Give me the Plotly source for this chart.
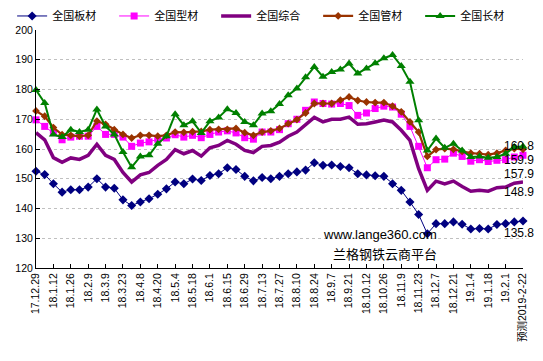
import plotly.graph_objects as go

tick_labels = ["17.12.29", "18.1.12", "18.1.26", "18.2.9", "18.3.9", "18.3.23", "18.4.8",
               "18.4.20", "18.5.4", "18.5.18", "18.6.1", "18.6.15", "18.6.29", "18.7.13",
               "18.7.27", "18.8.10", "18.8.24", "18.9.7", "18.9.21", "18.10.12", "18.10.26",
               "18.11.9", "18.11.23", "18.12.7", "18.12.21", "19.1.4", "19.1.18", "19.2.1",
               "预测2019-2-22"]

week_index = list(range(57))

plate = [152.5, 151.4, 148.3, 145.5, 146.3, 146.3, 147.2, 150.0, 147.2, 146.8,
         142.9, 141.0, 142.2, 143.3, 144.8, 146.6, 148.9, 148.3, 149.9, 149.4,
         151.1, 151.7, 153.7, 153.1, 150.8, 149.3, 150.4, 150.0, 150.8, 151.7,
         152.3, 152.9, 155.4, 154.5, 154.6, 154.1, 153.7, 151.7, 151.3, 151.0,
         150.8, 148.3, 146.1, 142.2, 138.0, 131.5, 134.9, 134.9, 135.5, 134.7,
         133.1, 133.3, 133.1, 134.6, 134.9, 135.5, 135.8]

section = [169.8, 167.6, 165.5, 163.1, 164.0, 164.3, 164.3, 167.6, 164.9, 164.9,
           164.0, 160.9, 162.0, 162.4, 163.3, 163.7, 164.8, 164.0, 164.6, 163.8,
           164.9, 165.7, 166.1, 165.4, 163.8, 163.3, 165.7, 165.7, 166.5, 168.5,
           170.0, 173.0, 175.8, 175.3, 175.1, 175.3, 174.6, 171.3, 172.1, 173.6,
           174.4, 174.1, 171.7, 167.6, 160.9, 153.7, 156.4, 156.6, 158.6, 157.5,
           155.9, 156.4, 155.8, 156.2, 156.4, 157.3, 157.9]

composite = [165.5, 163.1, 157.1, 155.5, 157.0, 156.5, 157.9, 161.6, 157.9, 156.5,
             152.1, 148.9, 151.3, 152.1, 154.5, 156.5, 159.8, 158.4, 159.5, 157.6,
             160.4, 161.2, 162.9, 161.6, 159.5, 158.8, 160.9, 161.2, 162.3, 164.3,
             165.7, 168.0, 170.6, 169.1, 170.0, 170.0, 170.7, 168.3, 168.5, 169.1,
             169.7, 169.1, 166.3, 162.9, 153.4, 146.1, 149.2, 148.3, 149.2, 147.4,
             145.8, 146.1, 145.8, 147.0, 147.2, 148.5, 148.9]

pipe = [172.8, 171.0, 167.2, 164.8, 164.6, 164.3, 164.6, 169.4, 168.3, 166.5,
        164.9, 163.7, 164.6, 164.6, 164.3, 164.6, 165.7, 165.6, 165.8, 165.9,
        166.5, 166.6, 166.6, 166.9, 165.5, 164.6, 165.7, 166.1, 166.9, 168.5,
        169.9, 172.1, 175.3, 175.3, 175.3, 176.4, 177.5, 176.3, 175.8, 175.6,
        175.6, 174.4, 172.5, 169.1, 165.7, 157.5, 159.8, 160.1, 159.9, 159.2,
        158.6, 158.4, 158.1, 158.6, 159.5, 160.1, 159.9]

long_prod = [179.8, 175.5, 164.9, 164.0, 166.5, 165.7, 166.5, 173.3, 167.6, 164.9,
             159.0, 153.9, 157.5, 157.9, 161.8, 164.3, 171.7, 168.0, 169.3, 165.4,
             169.3, 170.6, 173.4, 172.1, 169.1, 168.0, 171.9, 172.7, 175.1, 178.1,
             180.3, 184.1, 187.6, 184.3, 185.9, 186.7, 188.7, 185.4, 187.1, 188.8,
             190.5, 191.6, 187.9, 182.6, 169.7, 159.5, 163.5, 160.4, 161.8, 159.5,
             157.3, 157.5, 157.1, 157.3, 158.4, 160.7, 160.8]

series_names = ["全国板材", "全国型材", "全国综合", "全国管材", "全国长材"]

FONT = "Liberation Sans, Arial, Noto Sans CJK SC, sans-serif"

fig = go.Figure()
fig.add_trace(go.Scatter(x=week_index, y=plate, name=series_names[0], mode="lines+markers",
                         line=dict(color="#000080", width=1),
                         marker=dict(symbol="diamond", size=7, color="#000080"), cliponaxis=False))
fig.add_trace(go.Scatter(x=week_index, y=section, name=series_names[1], mode="lines+markers",
                         line=dict(color="#FF00FF", width=1),
                         marker=dict(symbol="square", size=7, color="#FF00FF"), cliponaxis=False))
fig.add_trace(go.Scatter(x=week_index, y=composite, name=series_names[2], mode="lines",
                         line=dict(color="#800080", width=3.5), cliponaxis=False))
fig.add_trace(go.Scatter(x=week_index, y=pipe, name=series_names[3], mode="lines+markers",
                         line=dict(color="#993300", width=2.2),
                         marker=dict(symbol="diamond", size=6, color="#993300"), cliponaxis=False))
fig.add_trace(go.Scatter(x=week_index, y=long_prod, name=series_names[4], mode="lines+markers",
                         line=dict(color="#008000", width=2),
                         marker=dict(symbol="triangle-up", size=8, color="#008000"), cliponaxis=False))

# end-of-series value labels
label_series = [long_prod, pipe, section, composite, plate]
label_shifts = [1, -11, -19, -10, -12]
for s, ys in zip(label_series, label_shifts):
    fig.add_annotation(x=week_index[-1], y=s[-1], xref="x", yref="y", text=f"{s[-1]:.1f}",
                       showarrow=False, xanchor="center", yanchor="middle", xshift=-4, yshift=ys,
                       font=dict(family=FONT, size=12, color="#000000"))

fig.add_annotation(x=0.706, y=0.139, xref="paper", yref="paper", text="www.lange360.com",
                   showarrow=False, xanchor="center", yanchor="middle",
                   font=dict(family=FONT, size=13, color="#000000"))
fig.add_annotation(x=0.717, y=0.059, xref="paper", yref="paper", text="兰格钢铁云商平台",
                   showarrow=False, xanchor="center", yanchor="middle",
                   font=dict(family="Noto Sans CJK SC, sans-serif", size=13, color="#000000"))

fig.update_layout(
    width=527, height=345,
    margin=dict(l=28, r=12, t=22, b=85, autoexpand=False),
    paper_bgcolor="white", plot_bgcolor="white",
    font=dict(family=FONT, size=11, color="#000000"),
    showlegend=True,
    legend=dict(orientation="h", x=-0.049, xanchor="left", y=1.059, yanchor="middle",
                entrywidth=57, entrywidthmode="pixels",
                font=dict(family="Noto Sans CJK SC, sans-serif", size=11, color="#000000"),
                bgcolor="rgba(0,0,0,0)", itemclick=False),
    xaxis=dict(range=[0, 56], tickmode="array", tickvals=week_index[::2], ticktext=tick_labels,
               tickangle=-90, ticks="inside", ticklen=4, tickcolor="#000000",
               showline=True, linecolor="#000000", linewidth=1, showgrid=False, zeroline=False,
               tickfont=dict(family=FONT + ", Noto Sans CJK SC", size=10.5, color="#000000")),
    yaxis=dict(range=[120, 200], dtick=10, ticks="inside", ticklen=4, tickcolor="#000000",
               showline=True, linecolor="#000000", linewidth=1,
               showgrid=True, gridcolor="#C0C0C0", griddash="3px,3px", gridwidth=1, zeroline=False,
               tickfont=dict(family=FONT, size=10.5, color="#000000")),
)

fig.write_html("out.html")
